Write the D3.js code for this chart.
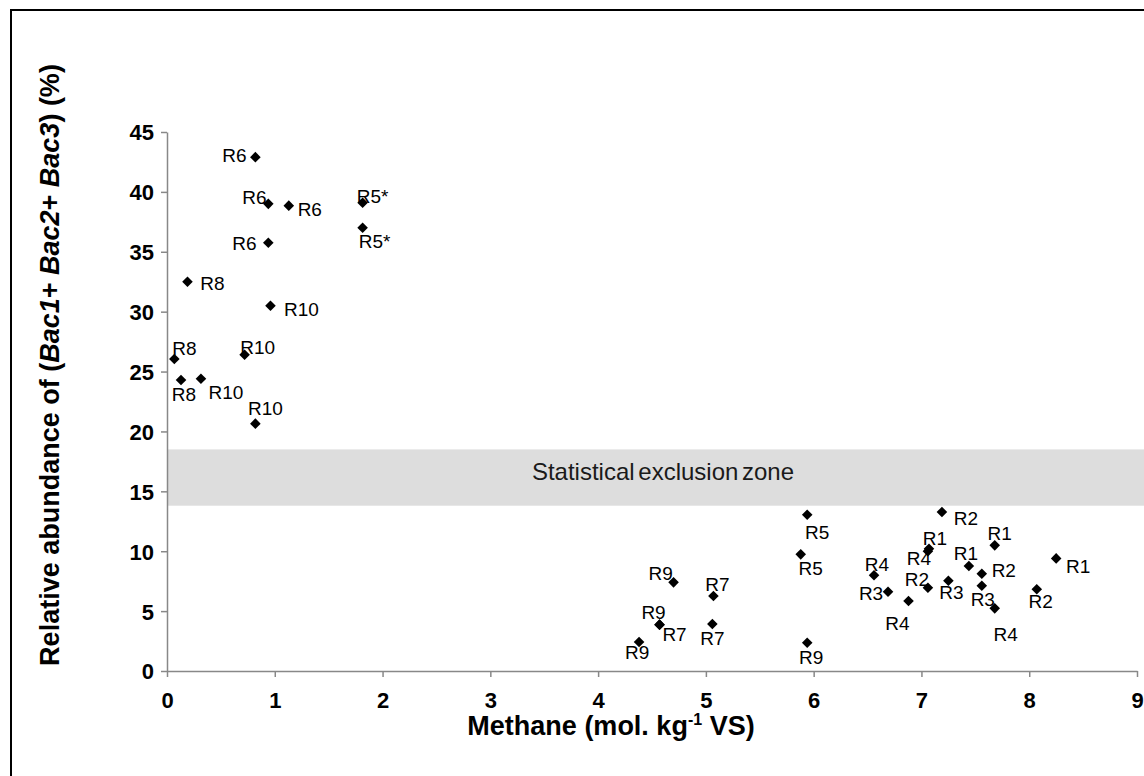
<!DOCTYPE html>
<html>
<head>
<meta charset="utf-8">
<script src="https://cdn.jsdelivr.net/npm/d3@7"></script>
<style>
  html, body { margin: 0; padding: 0; background: #fff; }
  svg { display: block; font-family: "Liberation Sans", Arial, sans-serif; }
</style>
</head>
<body>
<div id="chart"></div>
<script>
// reactor of each sample
var reactorNames = [
    "R6", "R6", "R6", "R5*", "R5*", "R6", "R8", "R10", "R8", "R10", "R8", "R10", "R10",
    "R5", "R5", "R4", "R3", "R9", "R7", "R2", "R1", "R1", "R4", "R1", "R2", "R1",
    "R2", "R3", "R3", "R2", "R4", "R4", "R9", "R7", "R7", "R9", "R9"
];
// methane (mol. kg-1 VS)
var methaneValues = [
    0.82, 0.94, 1.13, 1.815, 1.815, 0.94, 0.19, 0.96, 0.068, 0.72, 0.13, 0.315, 0.82,
    5.94, 5.88, 6.56, 6.69, 4.70, 5.07, 7.19, 7.68, 7.07, 7.06, 7.44, 7.56, 8.25,
    7.06, 7.25, 7.56, 8.07, 6.88, 7.68, 4.57, 4.57, 5.06, 4.38, 5.94
];
// relative abundance of Bac1+Bac2+Bac3 (%)
var abundanceValues = [
    42.9, 39.0, 38.85, 39.1, 37.0, 35.75, 32.5, 30.5, 26.05, 26.4, 24.3, 24.4, 20.65,
    13.05, 9.74, 8.0, 6.62, 7.4, 6.26, 13.27, 10.49, 10.2, 10.0, 8.77, 8.12, 9.4,
    6.95, 7.54, 7.12, 6.82, 5.84, 5.23, 3.87, 3.87, 3.92, 2.42, 2.36
];
var xTickValues = [0, 1, 2, 3, 4, 5, 6, 7, 8, 9];
var yTickValues = [0, 5, 10, 15, 20, 25, 30, 35, 40, 45];
var exclusionZone = [13.8, 18.5];

// where each data label sits around its marker (label centre, px)
var labelOffsets = [
    [-21, -2], [-14, -7], [21, 3], [10, -7], [12, 13], [-24, 0], [25, 1], [31, 3], [10, -11], [13, -8], [3, 14], [25, 13], [10, -15],
    [10, 17], [10, 14], [3, -11], [-17, 1], [-13, -9], [4, -12], [24, 6], [5, -12], [6, -11], [-9, 7], [-3, -13], [22, -4], [22, 8],
    [-11, -9], [3, 11], [1, 13], [4, 12], [-11, 22], [11, 26], [-6, -12], [15, 10], [0, 14], [-2, 10], [4, 14]
];

var width = 1144, height = 776;
var margin = { left: 167, right: 7, top: 132, bottom: 105 };

var svg = d3.select("#chart").append("svg")
    .attr("width", width)
    .attr("height", height);

// outer frame (right / bottom edges fall outside the picture)
svg.append("rect")
    .attr("x", 11)
    .attr("y", 10)
    .attr("width", width + 20)
    .attr("height", height + 20)
    .attr("fill", "#fff")
    .attr("stroke", "#000")
    .attr("stroke-width", 2);

var xScale = d3.scaleLinear().domain([0, 9]).range([margin.left, width - margin.right]);
var yScale = d3.scaleLinear().domain([0, 45]).range([height - margin.bottom, margin.top]);

// grey exclusion band
svg.append("rect")
    .attr("x", xScale(0) + 1)
    .attr("y", yScale(exclusionZone[1]))
    .attr("width", width - xScale(0))
    .attr("height", yScale(exclusionZone[0]) - yScale(exclusionZone[1]))
    .attr("fill", "#dddddd");

svg.append("text")
    .attr("x", 663)
    .attr("y", yScale(exclusionZone[1]) + 31)
    .attr("text-anchor", "middle")
    .attr("font-size", 24)
    .attr("word-spacing", -3)
    .attr("fill", "#1a1a1a")
    .text("Statistical exclusion zone");

// axes
var xAxis = svg.append("g")
    .attr("transform", "translate(0," + yScale(0) + ")")
    .call(d3.axisBottom(xScale).tickValues(xTickValues).tickSize(6).tickSizeOuter(0).tickPadding(15).tickFormat(d3.format("d")));
var yAxis = svg.append("g")
    .attr("transform", "translate(" + xScale(0) + ",0)")
    .call(d3.axisLeft(yScale).tickValues(yTickValues).tickSize(6).tickSizeOuter(0).tickPadding(7).tickFormat(d3.format("d")));

[xAxis, yAxis].forEach(function(ax) {
    ax.select(".domain").attr("stroke", "#888").attr("stroke-width", 1.5);
    ax.selectAll(".tick line").attr("stroke", "#888").attr("stroke-width", 1.5);
    ax.selectAll(".tick text")
        .attr("fill", "#000")
        .attr("font-size", 22)
        .attr("font-weight", "bold")
        .attr("font-family", "Liberation Sans, Arial, sans-serif");
});
yAxis.selectAll(".tick text").attr("dy", "0.36em");

// axis titles
var xTitle = svg.append("text")
    .attr("x", 611)
    .attr("y", 735)
    .attr("text-anchor", "middle")
    .attr("font-size", 27)
    .attr("font-weight", "bold");
xTitle.append("tspan").text("Methane (mol. kg");
xTitle.append("tspan").attr("font-size", 16).attr("dy", -10).text("-1");
xTitle.append("tspan").attr("dy", 10).text(" VS)");

var yTitle = svg.append("text")
    .attr("transform", "translate(59,365) rotate(-90)")
    .attr("text-anchor", "middle")
    .attr("font-size", 27)
    .attr("font-weight", "bold");
yTitle.append("tspan").text("Relative abundance of (");
yTitle.append("tspan").attr("font-style", "italic").text("Bac1");
yTitle.append("tspan").text("+ ");
yTitle.append("tspan").attr("font-style", "italic").text("Bac2");
yTitle.append("tspan").text("+ ");
yTitle.append("tspan").attr("font-style", "italic").text("Bac3");
yTitle.append("tspan").text(") (%)");

// points
var diamond = d3.symbol().type(d3.symbolSquare).size(56);
svg.append("g").selectAll("path")
    .data(methaneValues)
    .join("path")
    .attr("d", diamond)
    .attr("fill", "#000")
    .attr("transform", function(d, i) {
        return "translate(" + xScale(d) + "," + yScale(abundanceValues[i]) + ") rotate(45)";
    });

// data labels
svg.append("g").selectAll("text")
    .data(reactorNames)
    .join("text")
    .attr("x", function(d, i) { return xScale(methaneValues[i]) + labelOffsets[i][0]; })
    .attr("y", function(d, i) { return yScale(abundanceValues[i]) + labelOffsets[i][1]; })
    .attr("dy", "0.36em")
    .attr("text-anchor", "middle")
    .attr("font-size", 19)
    .attr("fill", "#000")
    .text(function(d) { return d; });
</script>
</body>
</html>
